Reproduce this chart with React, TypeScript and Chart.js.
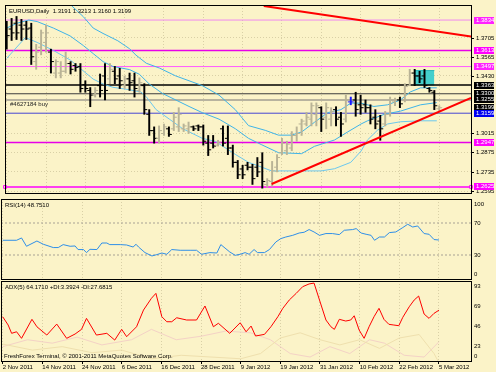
import React, { useEffect, useRef } from 'react';
import { Chart, registerables } from 'chart.js';

Chart.register(...registerables);

// ---------------- data ----------------
const CHART_TITLE = 'EURUSD,Daily  1.3191 1.3213 1.3160 1.3199';
const ORDER_LABEL = '#4627184 buy';
const ORDER_PRICE = 1.3255;
const RSI_TITLE = 'RSI(14) 48.7510';
const ADX_TITLE = 'ADX(5) 64.1710 +DI:3.3924 -DI:27.6815';
const COPYRIGHT = 'FreshForex Terminal, \u00a9 2001-2011 MetaQuotes Software Corp.';

const DATE_LABELS = ['2 Nov 2011', '14 Nov 2011', '24 Nov 2011', '6 Dec 2011', '16 Dec 2011', '28 Dec 2011',
  '9 Jan 2012', '19 Jan 2012', '31 Jan 2012', '10 Feb 2012', '22 Feb 2012', '5 Mar 2012'];
const DATE_LABEL_STEP = 8; // bars between date labels

const OPEN = [1.3755, 1.3769, 1.3811, 1.3797, 1.3797, 1.3776, 1.3533, 1.3637, 1.3672, 1.3602,
  1.3450, 1.3450, 1.3463, 1.3519, 1.3505, 1.3498, 1.3366, 1.3324, 1.3290, 1.3359,
  1.3429, 1.3408, 1.3463, 1.3429, 1.3359, 1.3408, 1.3394, 1.3324, 1.3359, 1.3151,
  1.3033, 1.2977, 1.3012, 1.3046, 1.3046, 1.3060, 1.3046, 1.3046, 1.3060, 1.3067,
  1.3060, 1.2942, 1.2942, 1.2928, 1.3046, 1.2977, 1.2907, 1.2803, 1.2755, 1.2782,
  1.2768, 1.2768, 1.2803, 1.2643, 1.2664, 1.2768, 1.2873, 1.2887, 1.2907, 1.2998,
  1.3081, 1.3081, 1.3116, 1.3151, 1.3199, 1.3130, 1.3116, 1.3185, 1.3130, 1.3116,
  1.3241, 1.3255, 1.3220, 1.3220, 1.3199, 1.3130, 1.3102, 1.3081, 1.3151, 1.3241,
  1.3255, 1.3255, 1.3359, 1.3450, 1.3429, 1.3429, 1.3338, 1.3311, 1.3191];
const HIGH = [1.3825, 1.3846, 1.3860, 1.3839, 1.3825, 1.3811, 1.3658, 1.3762, 1.3797, 1.3623,
  1.3547, 1.3533, 1.3602, 1.3533, 1.3519, 1.3519, 1.3394, 1.3345, 1.3345, 1.3443,
  1.3519, 1.3519, 1.3498, 1.3484, 1.3429, 1.3450, 1.3450, 1.3415, 1.3373, 1.3185,
  1.3060, 1.3067, 1.3081, 1.3060, 1.3165, 1.3199, 1.3081, 1.3095, 1.3067, 1.3074,
  1.3074, 1.2998, 1.2998, 1.2963, 1.3067, 1.3067, 1.2928, 1.2817, 1.2782, 1.2803,
  1.2789, 1.2838, 1.2873, 1.2685, 1.2810, 1.2859, 1.2977, 1.2956, 1.3026, 1.3060,
  1.3116, 1.3165, 1.3234, 1.3234, 1.3206, 1.3234, 1.3199, 1.3206, 1.3165, 1.3290,
  1.3276, 1.3311, 1.3290, 1.3255, 1.3220, 1.3185, 1.3144, 1.3172, 1.3276, 1.3269,
  1.3276, 1.3373, 1.3477, 1.3477, 1.3463, 1.3477, 1.3345, 1.3324, 1.3213];
const LOW = [1.3623, 1.3686, 1.3693, 1.3686, 1.3693, 1.3512, 1.3477, 1.3582, 1.3602, 1.3450,
  1.3415, 1.3415, 1.3450, 1.3443, 1.3463, 1.3311, 1.3311, 1.3206, 1.3276, 1.3276,
  1.3255, 1.3373, 1.3373, 1.3338, 1.3338, 1.3324, 1.3276, 1.3311, 1.3151, 1.2998,
  1.2942, 1.2942, 1.2998, 1.2991, 1.3033, 1.3026, 1.3026, 1.3012, 1.3033, 1.3033,
  1.2928, 1.2852, 1.2907, 1.2921, 1.2921, 1.2859, 1.2768, 1.2685, 1.2685, 1.2748,
  1.2643, 1.2699, 1.2616, 1.2623, 1.2629, 1.2734, 1.2859, 1.2859, 1.2887, 1.2956,
  1.2998, 1.3067, 1.3067, 1.3067, 1.3026, 1.3046, 1.3067, 1.3067, 1.2991, 1.3095,
  1.3220, 1.3137, 1.3151, 1.3165, 1.3081, 1.3046, 1.2963, 1.3067, 1.3137, 1.3213,
  1.3199, 1.3241, 1.3359, 1.3359, 1.3380, 1.3345, 1.3311, 1.3185, 1.3160];
const CLOSE = [1.3721, 1.3741, 1.3741, 1.3769, 1.3769, 1.3568, 1.3602, 1.3741, 1.3741, 1.3533,
  1.3533, 1.3463, 1.3519, 1.3477, 1.3491, 1.3338, 1.3338, 1.3290, 1.3324, 1.3324,
  1.3324, 1.3477, 1.3408, 1.3394, 1.3408, 1.3380, 1.3338, 1.3380, 1.3185, 1.3033,
  1.2977, 1.3033, 1.3060, 1.3005, 1.3130, 1.3151, 1.3067, 1.3060, 1.3046, 1.3060,
  1.2956, 1.2894, 1.2921, 1.2949, 1.2942, 1.2907, 1.2803, 1.2713, 1.2713, 1.2768,
  1.2685, 1.2734, 1.2664, 1.2671, 1.2741, 1.2838, 1.2942, 1.2935, 1.2998, 1.3012,
  1.3102, 1.3130, 1.3213, 1.3213, 1.3116, 1.3199, 1.3172, 1.3116, 1.3081, 1.3255,
  1.3241, 1.3185, 1.3199, 1.3199, 1.3116, 1.3081, 1.3046, 1.3151, 1.3255, 1.3255,
  1.3227, 1.3352, 1.3450, 1.3429, 1.3408, 1.3359, 1.3324, 1.3213, 1.3199];

// band lines: [bar index, price]
const UPPER_BAND = [[13.2, 1.3938], [15.6, 1.3858], [17.6, 1.3776], [19.6, 1.3737], [22.6, 1.3684], [25.0, 1.3626],
  [26.3, 1.3580], [28.4, 1.3521], [31.1, 1.3486], [34.4, 1.3429], [37.1, 1.3394], [39.8, 1.3359], [43.2, 1.3290],
  [46.5, 1.3185], [49.2, 1.3069], [52.6, 1.3035], [55.3, 1.3000], [57.9, 1.3000], [60.0, 1.3023], [62.6, 1.3093],
  [65.3, 1.3163], [68.0, 1.3185], [70.0, 1.3232], [72.1, 1.3232], [74.7, 1.3208], [77.5, 1.3220], [80.1, 1.3255],
  [82.1, 1.3313], [84.2, 1.3343], [87.5, 1.3343]];
const MIDDLE_BAND = [[0, 1.3776], [2.1, 1.3811], [4.5, 1.3834], [6.2, 1.3823], [9.5, 1.3776], [12.9, 1.3719],
  [15.6, 1.3649], [17.6, 1.3591], [19.6, 1.3533], [21.6, 1.3498], [25.0, 1.3475], [27.0, 1.3441], [29.0, 1.3371],
  [31.7, 1.3302], [34.4, 1.3255], [37.1, 1.3208], [39.8, 1.3163], [43.2, 1.3116], [46.5, 1.3047], [49.2, 1.2977],
  [51.9, 1.2930], [55.3, 1.2873], [60.0, 1.2866], [62.6, 1.2919], [66.7, 1.2965], [69.4, 1.3024], [72.1, 1.3081],
  [73.4, 1.3104], [76.8, 1.3151], [80.1, 1.3174], [84.2, 1.3220], [87.5, 1.3236]];
const LOWER_BAND = [[0, 1.3556], [3.8, 1.3707], [6.2, 1.3672], [9.5, 1.3614], [12.9, 1.3545], [14.9, 1.3486],
  [17.6, 1.3406], [19.6, 1.3371], [21.6, 1.3347], [25.0, 1.3329], [27.3, 1.3313], [28.4, 1.3278], [30.4, 1.3185],
  [33.1, 1.3116], [35.8, 1.3047], [39.8, 1.2977], [42.5, 1.2954], [46.5, 1.2861], [49.2, 1.2803], [51.9, 1.2768],
  [53.9, 1.2741], [64.0, 1.2741], [66.7, 1.2757], [70.0, 1.2803], [72.1, 1.2885], [73.4, 1.2965], [75.4, 1.3035],
  [77.5, 1.3081], [80.1, 1.3097], [84.2, 1.3104], [87.5, 1.3104]];

const TREND_DOWN = [[52.3, 1.3936], [94.46, 1.3714]];
const TREND_UP = [[53.9, 1.2646], [94.46, 1.3269]];
const ZONE_BARS = [82.96, 87.0];
const ZONE_PRICES = [1.3364, 1.3468];

const LEVELS = [1.3834, 1.3613, 1.3497, 1.3363, 1.3300, 1.3255, 1.3159, 1.2947, 1.2625];
const BID = 1.3199;
const PRICE_TICKS = [1.3705, 1.3565, 1.3430, 1.3015, 1.2875, 1.2735, 1.2595];
const PRICE_MIN = 1.2581;
const PRICE_MAX = 1.3943;
const BAR_MIN = -0.343;
const BAR_MAX = 94.46;

const RSI = [[0, 48.4], [2.8, 48.4], [3.8, 51.3], [4.8, 40.9], [6.9, 47.5], [8.2, 43.4], [10.2, 39.3], [11.2, 39.3],
  [12.2, 43.0], [13.6, 40.9], [14.6, 41.3], [15.2, 36.8], [16.3, 36.8], [16.9, 33.0], [17.6, 37.1], [19.0, 36.8],
  [20.0, 45.0], [21.0, 45.0], [21.6, 43.0], [23.7, 43.0], [25.0, 42.5], [26.3, 40.0], [26.9, 43.4], [27.4, 40.0],
  [28.7, 33.0], [30.1, 28.8], [31.1, 30.5], [32.1, 32.5], [33.1, 30.9], [34.1, 36.8], [35.8, 35.9], [37.8, 35.9],
  [39.1, 35.9], [40.1, 30.9], [41.8, 33.0], [43.2, 32.5], [44.0, 43.0], [45.8, 33.8], [46.9, 29.6], [47.9, 30.9],
  [48.9, 33.0], [49.7, 30.9], [50.7, 36.8], [51.4, 33.0], [52.8, 33.0], [53.8, 36.8], [55.1, 46.3], [56.1, 50.5],
  [57.1, 52.5], [58.5, 54.6], [59.8, 57.5], [60.8, 58.4], [61.8, 61.8], [62.8, 58.8], [63.9, 54.6], [65.2, 56.8],
  [66.5, 56.8], [67.9, 55.5], [68.9, 60.9], [70.6, 61.8], [71.3, 63.0], [72.3, 57.5], [73.3, 55.9], [74.3, 54.6],
  [75.0, 48.4], [76.0, 52.5], [77.0, 52.5], [78.0, 58.0], [79.3, 58.8], [80.7, 64.3], [81.7, 68.4], [82.7, 65.0],
  [83.7, 66.3], [85.0, 56.8], [86.0, 55.9], [87.0, 49.3], [88.0, 48.75]];
const RSI_LEVELS = [30, 70];
const RSI_TICKS = [100, 70, 30, 0];

const ADX = [[0, 56.6], [1.1, 47.0], [1.8, 37.4], [2.8, 39.2], [3.8, 31.6], [5.9, 53.6], [6.9, 45.0], [8.9, 35.4],
  [10.9, 48.1], [12.9, 31.6], [14.6, 36.6], [15.9, 42.0], [16.9, 54.7], [18.9, 35.4], [21.0, 37.4], [22.6, 29.6],
  [24.0, 42.0], [25.0, 33.5], [27.0, 45.0], [28.4, 64.3], [30.0, 77.9], [30.9, 83.6], [32.1, 56.6], [33.1, 50.8],
  [34.1, 50.8], [35.1, 55.4], [37.1, 52.8], [39.1, 52.8], [40.8, 69.0], [42.5, 45.0], [43.5, 49.0], [45.8, 37.4],
  [47.9, 49.6], [49.1, 39.2], [50.1, 45.8], [51.0, 34.3], [52.8, 36.2], [54.1, 45.0], [55.5, 56.6], [56.5, 66.3],
  [57.8, 75.9], [59.2, 83.6], [60.5, 91.3], [61.8, 94.5], [62.8, 95.5], [63.9, 75.9], [65.2, 52.8], [66.2, 45.0],
  [66.9, 42.0], [67.9, 53.6], [69.2, 51.6], [70.2, 52.8], [70.9, 57.7], [71.9, 41.2], [72.9, 31.6], [73.9, 45.0],
  [74.9, 56.6], [75.9, 66.3], [76.9, 53.6], [77.9, 47.8], [78.9, 47.0], [79.9, 46.2], [80.7, 55.9], [82.0, 68.1],
  [83.0, 75.9], [83.9, 80.5], [85.0, 59.7], [86.0, 54.7], [87.0, 60.5], [88.0, 64.17]];
const DI_PLUS = [[0, 25], [6, 18], [12, 22], [18, 15], [24, 18], [30, 8], [36, 12], [42, 10], [48, 8], [52, 14],
  [56, 32], [60, 38], [64, 30], [68, 24], [72, 30], [76, 20], [80, 32], [84, 36], [87, 14], [88, 3.39]];
const DI_MINUS = [[0, 22], [5, 30], [10, 26], [15, 33], [20, 24], [26, 30], [30, 42], [35, 30], [40, 34], [45, 40],
  [50, 38], [54, 30], [58, 14], [62, 10], [66, 22], [70, 14], [74, 30], [77, 26], [81, 12], [85, 10], [88, 27.68]];
const ADX_TICKS = [93, 69.75, 46.5, 23.25, 0];
const ADX_MIN = 5.4;
const ADX_MAX = 97.9;

// ---------------- styles ----------------
const BG = '#fbf3c8';
const GRID = 'rgba(140,130,90,0.30)';
const FAMILY = "'Liberation Sans', Arial, sans-serif";
const FONT = `6px ${FAMILY}`;
const UP_COLOR = '#b9b396';
const DOWN_COLOR = '#000000';
const DOJI_COLOR = '#1a1aff';
const BAND_COLOR = '#3fb4e8';
const LEVEL_COLORS = ['#f08af0', '#e800e8', '#ff5cff', '#000000', '#3c3c3c', '#a29e92', '#4646d2', '#e800e8', '#ff00ff'];
const LEVEL_WIDTHS = [1, 1.5, 1, 1.5, 1, 1.5, 1, 1.5, 1.5];
const BOX_PRICES = [1.3834, 1.3613, 1.3497, 1.3363, 1.3300, 1.3255, BID, 1.3159, 1.2947, 1.2625];
const BOX_COLORS = ['#ff22ff', '#ff00ff', '#ff22ff', '#000000', '#000000', '#000000', '#000000', '#0000f0', '#ff00ff', '#ff00ff'];

const pts = (arr: number[][]) => arr.map(([x, y]) => ({ x, y }));
const barColor = (i: number) => (CLOSE[i] > OPEN[i] ? UP_COLOR : CLOSE[i] < OPEN[i] ? DOWN_COLOR : DOJI_COLOR);

function xAxis(labels: boolean): any {
  return {
    type: 'linear', position: 'bottom', min: BAR_MIN, max: BAR_MAX, offset: false,
    afterBuildTicks: (s: any) => { s.ticks = DATE_LABELS.map((_, k) => ({ value: k * DATE_LABEL_STEP })); },
    afterFit: (s: any) => { s.height = labels ? 11 : 0; },
    grid: { offset: false, color: GRID, drawTicks: labels, tickLength: 3, tickColor: '#000', tickWidth: 1 },
    border: { display: false, dash: [1, 2] },
    ticks: {
      display: labels, align: 'start', color: '#000', padding: 0, maxRotation: 0, autoSkip: false,
      font: { family: FAMILY, size: 6 },
      callback: (_v: any, i: number) => DATE_LABELS[i] ?? '',
    },
  };
}

function yAxis(min: number, max: number, ticks: number[] | null): any {
  return {
    type: 'linear', position: 'right', min, max, beginAtZero: false,
    afterBuildTicks: (s: any) => { s.ticks = (ticks ?? []).map((v) => ({ value: v })); },
    afterFit: (s: any) => { s.width = 25; },
    ticks: { display: false },
    grid: { display: !!ticks, color: GRID, drawTicks: false },
    border: { display: false, dash: [1, 2] },
  };
}

function lineDs(data: number[][], color: string, width: number, order: number, extra: any = {}): any {
  return { type: 'line', data: pts(data), borderColor: color, borderWidth: width, pointRadius: 0, tension: 0, order, ...extra };
}

function decor(draw: (chart: any, ctx: CanvasRenderingContext2D) => void) {
  return {
    id: 'decor',
    beforeDraw(chart: any) {
      const c = chart.ctx;
      c.save(); c.fillStyle = BG; c.fillRect(0, 0, chart.width, chart.height); c.restore();
    },
    afterDraw(chart: any) {
      const c = chart.ctx as CanvasRenderingContext2D;
      const a = chart.chartArea;
      c.save();
      c.font = FONT; c.textBaseline = 'middle'; c.textAlign = 'left';
      draw(chart, c);
      c.strokeStyle = '#000'; c.lineWidth = 1;
      const l = Math.round(a.left) + 0.5, t = Math.round(a.top) + 0.5;
      c.strokeRect(l, t, Math.round(a.right) - Math.round(a.left), Math.round(a.bottom) - Math.round(a.top));
      c.restore();
    },
  };
}

function sideLabels(chart: any, c: CanvasRenderingContext2D, values: number[], text: (v: number) => string) {
  const a = chart.chartArea; const ys = chart.scales.y;
  c.fillStyle = '#000';
  values.forEach((v) => {
    let y = ys.getPixelForValue(v);
    y = Math.min(Math.max(y, a.top + 4.5), a.bottom - 5);
    c.fillText(text(v), a.right + 3, y + 0.5);
  });
}

const base = (scales: any, padding: any, plugin: any, datasets: any[]): any => ({
  type: 'line',
  data: { datasets },
  options: {
    animation: false, responsive: true, maintainAspectRatio: false, devicePixelRatio: 1, events: [],
    layout: { padding },
    plugins: { legend: { display: false }, tooltip: { enabled: false } },
    scales,
  },
  plugins: [plugin],
});

function mainConfig() {
  const datasets: any[] = [];
  datasets.push(lineDs([[ZONE_BARS[0], ZONE_PRICES[1]], [ZONE_BARS[1], ZONE_PRICES[1]]], '#2ab5b5', 1, 20,
    { fill: '+1', backgroundColor: 'rgba(52,204,204,0.92)' }));
  datasets.push(lineDs([[ZONE_BARS[0], ZONE_PRICES[0]], [ZONE_BARS[1], ZONE_PRICES[0]]], '#2ab5b5', 1, 21));
  LEVELS.forEach((v, k) => {
    const last = k === LEVELS.length - 1;
    datasets.push(lineDs([[BAR_MIN, v], [BAR_MAX, v]], LEVEL_COLORS[k], LEVEL_WIDTHS[k], 15, last ? {
      pointRadius: 2, pointStyle: 'rect', pointBackgroundColor: BG, pointBorderColor: LEVEL_COLORS[k], pointBorderWidth: 1, clip: false,
    } : {}));
  });
  datasets.push(lineDs(UPPER_BAND, BAND_COLOR, 1, 10));
  datasets.push(lineDs(MIDDLE_BAND, BAND_COLOR, 1, 10));
  datasets.push(lineDs(LOWER_BAND, '#6cc8ee', 1, 10));
  datasets.push({
    type: 'bar', data: OPEN.map((_, i) => ({ x: i, y: [LOW[i], HIGH[i]] })),
    backgroundColor: (ctx: any) => barColor(ctx.dataIndex), borderWidth: 0, barThickness: 1.3, order: 5,
  });
  datasets.push({
    type: 'line', data: OPEN.map((o, i) => ({ x: i - 0.3, y: o })), showLine: false, pointStyle: 'line',
    pointRadius: 1.5, pointBorderWidth: 1, pointBorderColor: (ctx: any) => barColor(ctx.dataIndex), order: 4,
  });
  datasets.push({
    type: 'line', data: CLOSE.map((cl, i) => ({ x: i + 0.3, y: cl })), showLine: false, pointStyle: 'line',
    pointRadius: 1.5, pointBorderWidth: 1, pointBorderColor: (ctx: any) => barColor(ctx.dataIndex), order: 4,
  });
  datasets.push(lineDs(TREND_DOWN, '#ff0000', 2, 1));
  datasets.push(lineDs(TREND_UP, '#ff0000', 2, 1));

  const plugin = decor((chart, c) => {
    const a = chart.chartArea; const ys = chart.scales.y;
    c.fillStyle = '#000';
    c.fillText(CHART_TITLE, a.left + 4, a.top + 6);
    c.fillStyle = '#222';
    c.fillText(ORDER_LABEL, a.left + 5, ys.getPixelForValue(ORDER_PRICE) + 4.5);
    // plain price ticks
    c.strokeStyle = '#000'; c.lineWidth = 1;
    PRICE_TICKS.forEach((v) => {
      const y = Math.round(ys.getPixelForValue(v)) + 0.5;
      c.beginPath(); c.moveTo(a.right, y); c.lineTo(a.right + 3, y); c.stroke();
      c.fillStyle = '#000';
      c.fillText(v.toFixed(4), a.right + 5, y);
    });
    // boxed level labels
    BOX_PRICES.forEach((v, k) => {
      const y = ys.getPixelForValue(v);
      c.fillStyle = BOX_COLORS[k];
      c.fillRect(a.right + 3, Math.round(y - 3.5), 20, 7);
      c.fillStyle = '#fff';
      c.fillText(v.toFixed(4), a.right + 5, Math.round(y - 3.5) + 3.5);
    });
  });
  return base({ x: xAxis(false), y: yAxis(PRICE_MIN, PRICE_MAX, PRICE_TICKS) }, { left: 1, right: 0, top: 1, bottom: 1 }, plugin, datasets);
}

function rsiConfig() {
  const datasets: any[] = RSI_LEVELS.map((v) => lineDs([[BAR_MIN, v], [BAR_MAX, v]], '#a8a294', 1, 10, { borderDash: [2, 2] }));
  datasets.push(lineDs(RSI, '#2f8fe8', 1, 1));
  const plugin = decor((chart, c) => {
    const a = chart.chartArea;
    c.fillStyle = '#000';
    c.fillText(RSI_TITLE, a.left + 4, a.top + 6);
    sideLabels(chart, c, RSI_TICKS, (v) => String(v));
  });
  return base({ x: xAxis(false), y: yAxis(0, 100, null) }, { left: 1, right: 0, top: 1, bottom: 1 }, plugin, datasets);
}

function adxConfig() {
  const datasets: any[] = [
    lineDs(DI_PLUS, '#efe0ae', 1, 5),
    lineDs(DI_MINUS, '#f4d2c6', 1, 5),
    lineDs(ADX, '#ff0000', 1, 1),
  ];
  const plugin = decor((chart, c) => {
    const a = chart.chartArea;
    c.fillStyle = '#000';
    c.fillText(ADX_TITLE, a.left + 4, a.top + 6);
    c.fillText(COPYRIGHT, a.left + 3, a.bottom - 5);
    sideLabels(chart, c, ADX_TICKS, (v) => String(Math.floor(v)));
  });
  return base({ x: xAxis(true), y: yAxis(ADX_MIN, ADX_MAX, null) }, { left: 1, right: 0, top: 1, bottom: 0 }, plugin, datasets);
}

export default function App() {
  const mainRef = useRef<HTMLCanvasElement>(null);
  const rsiRef = useRef<HTMLCanvasElement>(null);
  const adxRef = useRef<HTMLCanvasElement>(null);
  useEffect(() => {
    document.body.style.margin = '0';
    const charts = [
      new Chart(mainRef.current as HTMLCanvasElement, mainConfig()),
      new Chart(rsiRef.current as HTMLCanvasElement, rsiConfig()),
      new Chart(adxRef.current as HTMLCanvasElement, adxConfig()),
    ];
    return () => charts.forEach((ch) => ch.destroy());
  }, []);
  const box = (top: number, height: number): React.CSSProperties => ({ position: 'absolute', left: 0, top, width: 496, height });
  return (
    <div style={{ position: 'relative', width: 496, height: 372, background: BG, overflow: 'hidden' }}>
      <div style={box(0, 198)}><canvas ref={mainRef} /></div>
      <div style={box(198, 82)}><canvas ref={rsiRef} /></div>
      <div style={box(280, 92)}><canvas ref={adxRef} /></div>
    </div>
  );
}
